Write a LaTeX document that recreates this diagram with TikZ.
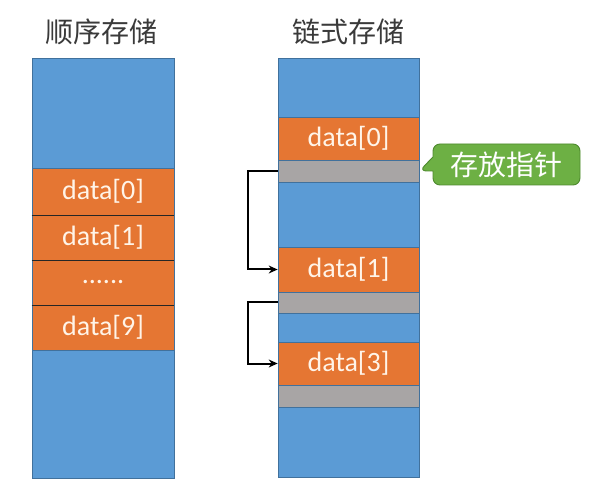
\documentclass[tikz,border=0pt]{standalone}
\usepackage{fontspec}
\setmainfont{Carlito}
\newfontfamily\cjkfont{Noto Sans CJK SC}
\usetikzlibrary{shapes.callouts,arrows.meta}
\definecolor{cblue}{HTML}{5B9BD5}
\definecolor{corange}{HTML}{E57633}
\definecolor{cgray}{HTML}{A8A5A5}
\definecolor{cborder}{HTML}{41719C}
\definecolor{cgreen}{HTML}{6DB044}
\definecolor{cgreenb}{HTML}{4E8A2E}
\definecolor{ctitle}{HTML}{3A3A3A}
\definecolor{ctext}{HTML}{FFF4E8}
\tikzset{
  cell/.style={rectangle, draw=cborder, line width=0.7pt, inner sep=0pt,
    minimum width=#1, text=ctext, font=\fontsize{28}{30}\selectfont},
  lcell/.style={cell=142pt},
  rcell/.style={cell=141pt},
  title/.style={font=\cjkfont\fontsize{28}{30}\selectfont, text=ctitle},
  sepline/.style={line width=1.6pt, draw=black!85},
  link/.style={line width=2pt, draw=black, -{Stealth[length=9pt,width=8pt]}},
}
\begin{document}
\begin{tikzpicture}[x=1pt,y=-1pt]
\useasboundingbox (0,0) rectangle (597,494);
\fill[white] (0,0) rectangle (597,494);
% titles
\node[title] (t1) at (101,32) {顺序存储};
\node[title] (t2) at (348,32) {链式存储};
% left column (sequential)
\node[lcell, fill=cblue, minimum height=110pt] (L0) at (103,113) {};
\node[lcell, fill=corange, minimum height=47pt] (La) at (103,191.5) {data[0]};
\node[lcell, fill=corange, minimum height=45pt] (Lb) at (103,237.5) {data[1]};
\node[lcell, fill=corange, minimum height=45pt] (Lc) at (103,282.5) {......};
\node[lcell, fill=corange, minimum height=45pt] (Ld) at (103,327.5) {data[9]};
\node[lcell, fill=cblue, minimum height=128pt] (Le) at (103,414) {};
\draw[sepline] (La.south west) -- (La.south east);
\draw[sepline] (Lb.south west) -- (Lb.south east);
\draw[sepline] (Lc.south west) -- (Lc.south east);
% right column (linked)
\node[rcell, fill=cblue, minimum height=59pt] (R0) at (348.5,87.5) {};
\node[rcell, fill=corange, minimum height=43pt] (R1) at (348.5,138.5) {data[0]};
\node[rcell, fill=cgray, minimum height=22pt] (P1) at (348.5,171) {};
\node[rcell, fill=cblue, minimum height=65pt] (R2) at (348.5,214.5) {};
\node[rcell, fill=corange, minimum height=45pt] (R3) at (348.5,269.5) {data[1]};
\node[rcell, fill=cgray, minimum height=21pt] (P2) at (348.5,302.5) {};
\node[rcell, fill=cblue, minimum height=29pt] (R4) at (348.5,327.5) {};
\node[rcell, fill=corange, minimum height=43pt] (R5) at (348.5,363.5) {data[3]};
\node[rcell, fill=cgray, minimum height=22pt] (P3) at (348.5,396) {};
\node[rcell, fill=cblue, minimum height=70pt] (R6) at (348.5,442) {};
% links
\draw[link] (P1.west) -- ++(-30,0) |- (R3.west);
\draw[link] (P2.west) -- ++(-30,0) |- (R5.west);
% callout
\node[rectangle callout, rounded corners=7pt, fill=cgreen, draw=cgreenb, line width=0.9pt,
  minimum width=147pt, minimum height=41pt, inner sep=0pt, text=white,
  font=\cjkfont\fontsize{28}{30}\selectfont,
  callout absolute pointer={(P1.east)}, callout pointer width=14pt] (c1) at (506.5,164.5) {存放指针};
\end{tikzpicture}
\end{document}
